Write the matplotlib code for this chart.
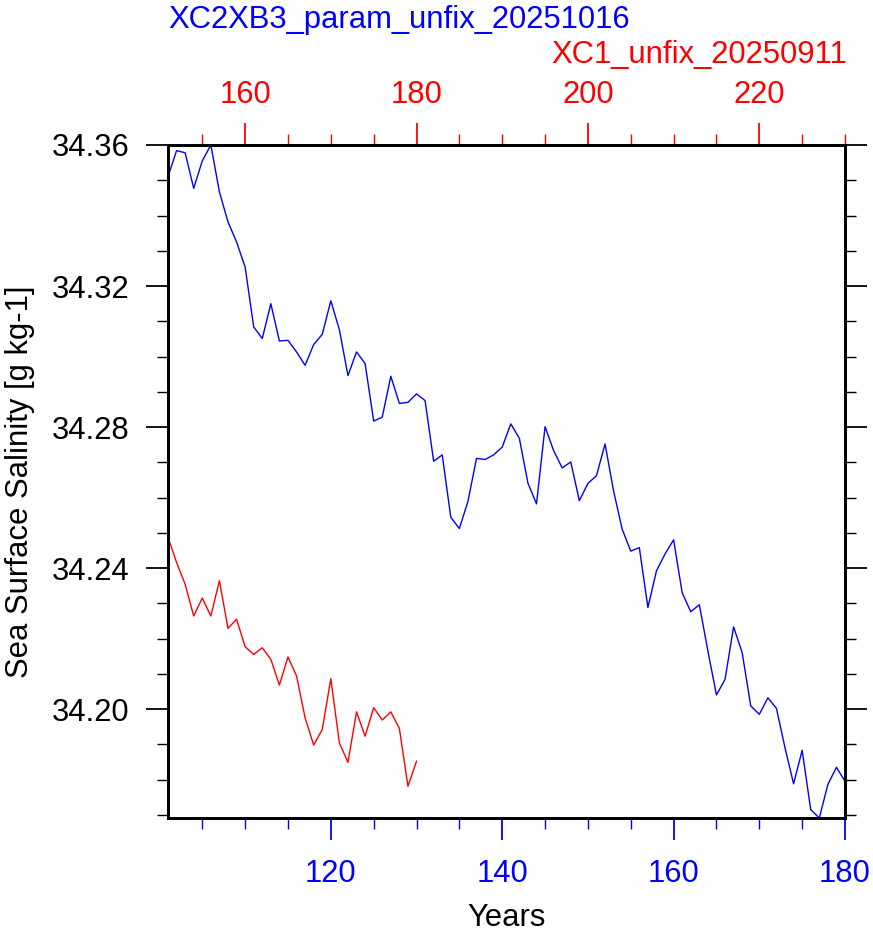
"""
plot.py - sea surface salinity time series, two runs on offset year axes
"""

import matplotlib
matplotlib.use("Agg")
import matplotlib.pyplot as plt
from matplotlib.ticker import MultipleLocator

plt.rcParams["font.family"] = ["Liberation Sans", "DejaVu Sans"]

# --- data ---------------------------------------------------------------------

RUN_A_NAME = "XC2XB3_param_unfix_20251016"
RUN_B_NAME = "XC1_unfix_20250911"

years_a = list(range(101, 181))
sss_a = [
    34.3510, 34.3584, 34.3578, 34.3477, 34.3555, 34.3600, 34.3467, 34.3382, 34.3325, 34.3254,
    34.3084, 34.3051, 34.3150, 34.3044, 34.3046, 34.3013, 34.2975, 34.3034, 34.3063, 34.3158,
    34.3076, 34.2946, 34.3013, 34.2980, 34.2817, 34.2828, 34.2944, 34.2867, 34.2870, 34.2894,
    34.2875, 34.2703, 34.2721, 34.2544, 34.2512, 34.2589, 34.2711, 34.2708, 34.2721, 34.2743,
    34.2809, 34.2768, 34.2641, 34.2582, 34.2801, 34.2733, 34.2684, 34.2701, 34.2591, 34.2640,
    34.2662, 34.2752, 34.2618, 34.2510, 34.2448, 34.2458, 34.2288, 34.2392, 34.2440, 34.2480,
    34.2330, 34.2276, 34.2296, 34.2165, 34.2040, 34.2084, 34.2233, 34.2160, 34.2009, 34.1985,
    34.2032, 34.2002, 34.1890, 34.1788, 34.1883, 34.1715, 34.1691, 34.1786, 34.1835, 34.1795,
]

years_b = list(range(151, 181))
sss_b = [
    34.2487, 34.2416, 34.2354, 34.2264, 34.2315, 34.2264, 34.2364, 34.2229, 34.2255, 34.2177,
    34.2155, 34.2174, 34.2141, 34.2068, 34.2148, 34.2094, 34.1975, 34.1898, 34.1942, 34.2086,
    34.1904, 34.1849, 34.1992, 34.1923, 34.2004, 34.1969, 34.1992, 34.1945, 34.1781, 34.1852,
]

# top axis is the bottom axis shifted by this many years
YEAR_OFFSET = 50

FS = 22.3


def style_ticks(ax, axis, color, pad=13.5):
    ax.tick_params(axis=axis, which="major", direction="out", length=16, width=1.3,
                   color=color, labelcolor=color, labelsize=FS, pad=pad)
    ax.tick_params(axis=axis, which="minor", direction="out", length=8, width=1.0,
                   color=color)


def main() -> None:
    fig = plt.figure(figsize=(8.73, 9.32), dpi=100)
    ax = fig.add_axes([168 / 873, 1 - 818 / 932, 677 / 873, 673 / 932])

    ax.plot(years_a, sss_a, color="blue", linewidth=1.0)
    ax.set_xlim(min(years_a), max(years_a))
    ax.set_ylim(min(sss_a + sss_b), max(sss_a + sss_b))

    ax.xaxis.set_major_locator(MultipleLocator(20))
    ax.xaxis.set_minor_locator(MultipleLocator(5))
    ax.yaxis.set_major_locator(MultipleLocator(0.04))
    ax.yaxis.set_minor_locator(MultipleLocator(0.01))
    ax.yaxis.set_major_formatter(lambda v, p: f"{v:.2f}")
    style_ticks(ax, "x", "blue", pad=13.5)
    style_ticks(ax, "y", "black", pad=12)
    ax.tick_params(axis="y", which="both", right=True)
    for sp in ax.spines.values():
        sp.set_linewidth(2.0)

    ax.set_xlabel("Years", fontsize=FS, labelpad=10)
    ax.set_ylabel("Sea Surface Salinity [g kg-1]", fontsize=FS, labelpad=12)

    ax2 = ax.twiny()
    ax2.plot(years_b, sss_b, color="red", linewidth=1.0)
    lo, hi = ax.get_xlim()
    ax2.set_xlim(lo + YEAR_OFFSET, hi + YEAR_OFFSET)
    ax2.xaxis.set_major_locator(MultipleLocator(20))
    ax2.xaxis.set_minor_locator(MultipleLocator(5))
    style_ticks(ax2, "x", "red", pad=9)
    for sp in ax2.spines.values():
        sp.set_linewidth(2.0)

    fig.text(168 / 873, 1 - 20 / 932, RUN_A_NAME, color="blue", fontsize=FS,
             ha="left", va="center")
    fig.text(847 / 873, 1 - 55 / 932, RUN_B_NAME, color="red", fontsize=FS,
             ha="right", va="center")

    fig.savefig("out.png", dpi=100)
    plt.close(fig)


if __name__ == "__main__":
    main()
